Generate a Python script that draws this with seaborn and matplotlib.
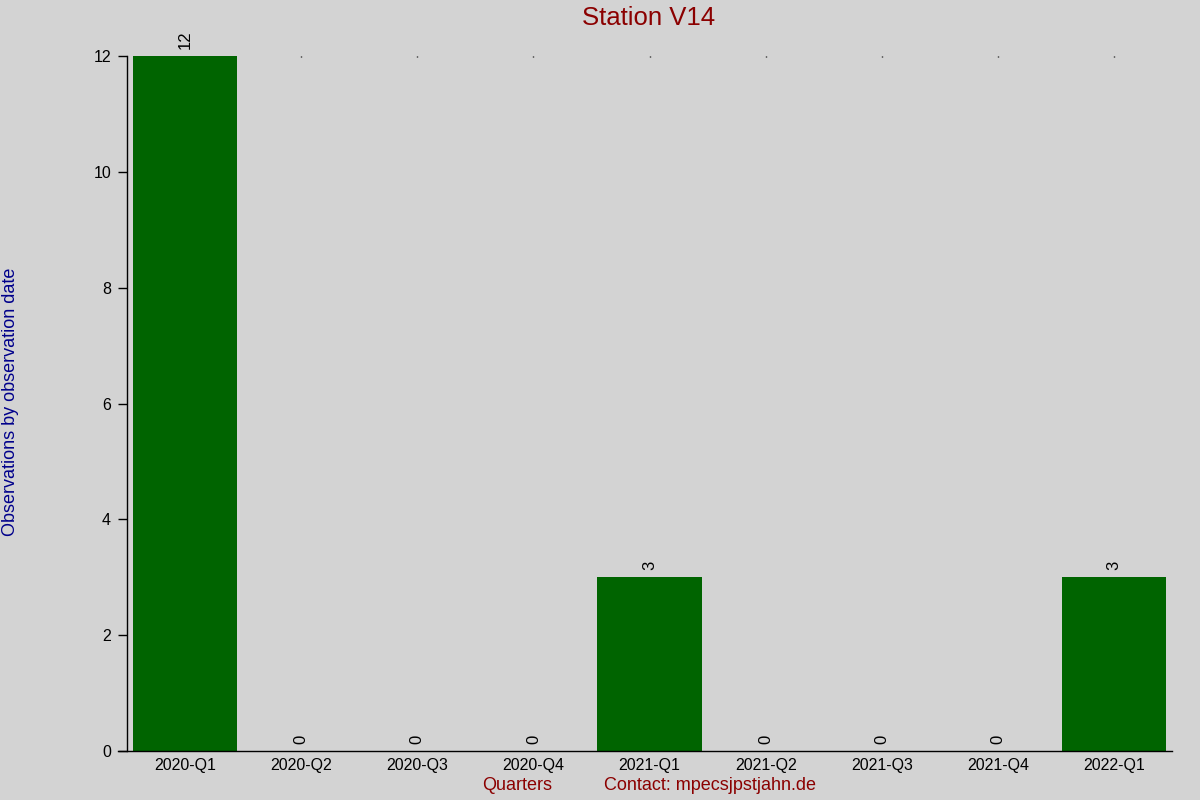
import matplotlib
matplotlib.use("Agg")
import matplotlib.pyplot as plt
import seaborn as sns
import pandas as pd

quarters = ["2020-Q1", "2020-Q2", "2020-Q3", "2020-Q4", "2021-Q1",
            "2021-Q2", "2021-Q3", "2021-Q4", "2022-Q1"]
counts = [12, 0, 0, 0, 3, 0, 0, 0, 3]
y_ticks = [0, 2, 4, 6, 8, 10, 12]

title = "Station V14"
x_label = "Quarters"
contact = "Contact: mpecsjpstjahn.de"
y_label = "Observations by observation date"

sns.set_style("white")
plt.rcParams["font.family"] = ["Liberation Sans", "DejaVu Sans"]

bg = "#D3D3D3"
fig = plt.figure(figsize=(12, 8), dpi=100, facecolor=bg)
ax = fig.add_axes([118/1200, 1-751/800, (1172-118)/1200, (751-56)/800])
ax.set_facecolor(bg)

df = pd.DataFrame({"q": quarters, "n": counts})
sns.barplot(data=df, x="q", y="n", color="#006400", saturation=1, width=0.9,
            ax=ax, linewidth=0)

for i, v in enumerate(counts):
    ax.annotate(str(v), (i, v), xytext=(0, 5), textcoords="offset points",
                rotation=90, ha="center", va="bottom", fontsize=12, color="black")

ax.set_xlim(-0.578, 8.5)
ax.set_ylim(0, 12)
ax.set_yticks(y_ticks)
ax.set_xlabel("")
ax.set_ylabel("")

for s in ["top", "right"]:
    ax.spines[s].set_visible(False)
ax.spines["left"].set_position(("data", -0.5))
ax.spines["left"].set_color("black")
ax.spines["bottom"].set_color("black")
ax.spines["left"].set_linewidth(1)
ax.spines["bottom"].set_linewidth(1)

ax.tick_params(axis="y", which="major", left=True, length=6.5, width=1,
               color="black", labelsize=11.5, pad=5, labelcolor="black")
ax.tick_params(axis="x", which="major", bottom=False, top=True, length=1,
               direction="in", width=1, color="black", labelsize=11.5, pad=5,
               labelcolor="black")

fig.text(649/1200, 1-18/800, title, ha="center", va="center",
         fontsize=18.5, color="#8B0000")
fig.text(517/1200, 1-786/800, x_label, ha="center", va="center",
         fontsize=13, color="#8B0000")
fig.text(710/1200, 1-786/800, contact, ha="center", va="center",
         fontsize=13, color="#8B0000")
fig.text(11/1200, 1-402/800, y_label, ha="center", va="center",
         rotation=90, fontsize=13, color="#00008B")

fig.savefig("out.png", dpi=100, facecolor=bg)
